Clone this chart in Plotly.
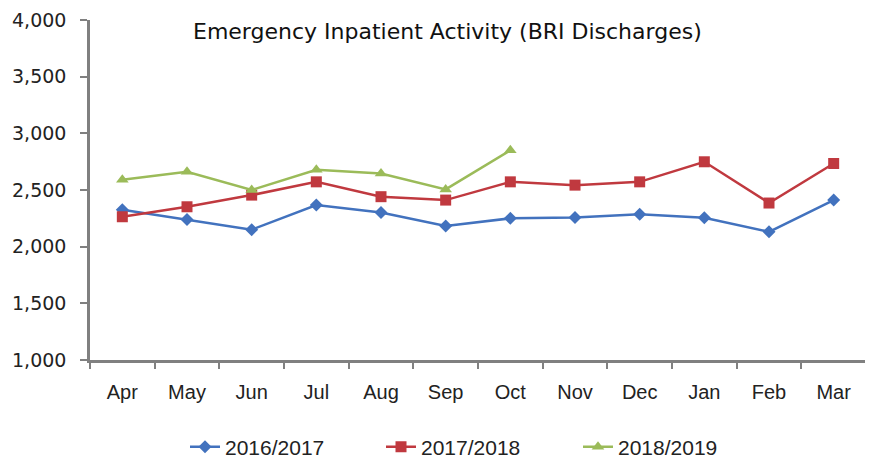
import plotly.graph_objects as go

months = ["Apr", "May", "Jun", "Jul", "Aug", "Sep", "Oct", "Nov", "Dec", "Jan", "Feb", "Mar"]
s2016 = [2325, 2240, 2150, 2367, 2302, 2183, 2250, 2258, 2287, 2255, 2131, 2411]
s2017 = [2264, 2352, 2455, 2572, 2441, 2411, 2572, 2543, 2572, 2749, 2385, 2734]
s2018 = [2590, 2660, 2500, 2678, 2646, 2505, 2850]
series_names = ["2016/2017", "2017/2018", "2018/2019"]

colors = ["#4272BE", "#C0393F", "#9BBB59"]
symbols = ["diamond", "square", "triangle-up"]
sizes = [10, 11, 11]
legend_ids = ["legend", "legend2", "legend3"]

# page body has an 8px margin: figure is drawn 8px right/down in the window
W, H = 865, 450
L, R, T, B = 82, 7, 12, 98
PW, PH = W - L - R, H - T - B


def px_x(px):
    return (px - 8 - L) / PW


def px_y(py):
    return (H - B - (py - 8)) / PH


fig = go.Figure()
for name, vals, c, s, sz, lg in zip(series_names, [s2016, s2017, s2018], colors, symbols, sizes, legend_ids):
    fig.add_trace(go.Scatter(
        x=months[:len(vals)], y=vals, name=name, mode="lines+markers",
        line=dict(color=c, width=2.5),
        marker=dict(symbol=s, size=sz, color=c),
        legend=lg,
    ))

leg_font = dict(family="Liberation Sans, Arial", size=21, color="#222")
leg_common = dict(orientation="h", xanchor="left", yanchor="middle", y=px_y(447),
                  font=leg_font, bgcolor="rgba(0,0,0,0)")

fig.update_layout(
    width=W, height=H,
    margin=dict(l=L, r=R, t=T, b=B, autoexpand=False),
    paper_bgcolor="white", plot_bgcolor="white",
    showlegend=True,
    legend=dict(x=px_x(227 - 42), **leg_common),
    legend2=dict(x=px_x(423 - 42), **leg_common),
    legend3=dict(x=px_x(620 - 42), **leg_common),
    annotations=[dict(text="Emergency Inpatient Activity (BRI Discharges)", x=px_x(447), y=px_y(31),
                      xref="paper", yref="paper", showarrow=False, xanchor="center", yanchor="middle",
                      font=dict(family="DejaVu Sans, Verdana", size=22, color="#111"))],
)

fig.update_xaxes(
    type="category", categoryarray=months, range=[-0.5, 11.5], automargin=False,
    showline=True, linecolor="#808080", linewidth=2.5,
    ticks="outside", tickson="boundaries", ticklen=6, tickcolor="#808080", tickwidth=2,
    showgrid=False, zeroline=False,
    tickfont=dict(family="Liberation Sans, Arial", size=20, color="#222"),
    ticklabelstandoff=12,
)
fig.update_yaxes(
    range=[1000, 4000], tickvals=[1000, 1500, 2000, 2500, 3000, 3500, 4000], tickformat=",",
    automargin=False,
    showline=True, linecolor="#808080", linewidth=2.5,
    ticks="outside", ticklen=7, tickcolor="#808080", tickwidth=2,
    showgrid=False, zeroline=False,
    tickfont=dict(family="DejaVu Sans, Verdana", size=19, color="#222"),
    ticklabelstandoff=10,
)

fig.write_html("out.html")
